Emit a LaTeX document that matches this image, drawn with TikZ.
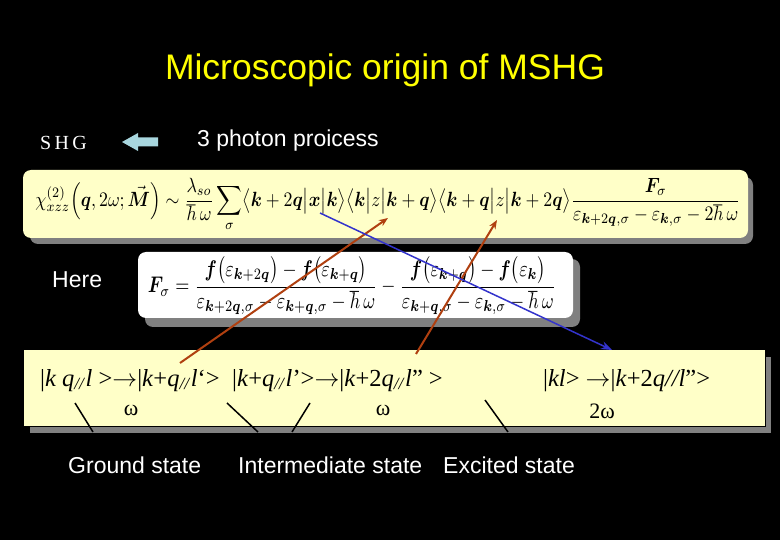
\documentclass[tikz,border=0pt]{standalone}
\usepackage{amsmath,bm,graphicx}
\usepackage{fontspec}
\setmainfont{Liberation Serif}
\newfontfamily\arialf{Liberation Sans}
\usetikzlibrary{arrows.meta}
\definecolor{boxyellow}{RGB}{255,255,200}
\definecolor{shadowgray}{RGB}{128,128,128}
\definecolor{titleyellow}{RGB}{255,255,0}
\definecolor{arrowblue}{RGB}{168,214,222}
\definecolor{redarrow}{RGB}{176,64,16}
\definecolor{bluearrow}{RGB}{51,51,204}
\tikzset{
  whitelabel/.style={text=white,font=\arialf\fontsize{23}{27}\selectfont,inner sep=0pt},
  statetext/.style={text=black,font=\fontsize{24.5}{28}\selectfont,inner sep=0pt},
  pointer/.style={black,line width=1.5pt},
  redarr/.style={redarrow,line width=2pt,-{Stealth[length=9pt,width=7pt]}},
  bluearr/.style={bluearrow,line width=1.5pt,-{Stealth[length=11pt,width=8pt]}},
}
\begin{document}
\begin{tikzpicture}[x=1pt,y=-1pt]
\fill[black] (0,0) rectangle (780,540);
\useasboundingbox (0,0) rectangle (780,540);
% title
\node[text=titleyellow,font=\arialf\fontsize{35.5}{40}\selectfont,inner sep=0pt] (title) at (385,70) {Microscopic origin of MSHG};
% SHG row
\node[text=white,font=\fontsize{20}{24}\selectfont,inner sep=0pt,anchor=west] (shg) at (40,143) {S\,H\,G};
\fill[arrowblue] (122,142) -- (138,133) -- (138,137.5) -- (158,137.5) -- (158,146.5) -- (138,146.5) -- (138,151) -- cycle;
\node[whitelabel,anchor=west] (photon) at (197,141) {3 photon proicess};
% box 1
\fill[shadowgray,rounded corners=8pt] (30,177) rectangle (753,244);
\fill[boxyellow,rounded corners=8pt] (23,170) rectangle (748,238);
\node[inner sep=0pt] (chi) at (388,205) {\resizebox*{705pt}{54pt}{$\displaystyle
\chi^{(2)}_{xzz}\Bigl(\bm{q},2\omega;\vec{\bm M}\Bigr)\sim\frac{\lambda_{so}}{\hbar\,\omega}\sum_{\sigma}\bigl\langle \bm{k}+2\bm{q}\big|\bm{x}\big|\bm{k}\bigr\rangle\bigl\langle\bm{k}\big|z\big|\bm{k}+\bm{q}\bigr\rangle\bigl\langle\bm{k}+\bm{q}\big|z\big|\bm{k}+2\bm{q}\bigr\rangle\frac{\bm{F}_\sigma}{\varepsilon_{\bm{k}+2\bm{q},\sigma}-\varepsilon_{\bm{k},\sigma}-2\hbar\,\omega}$}};
% Here
\node[whitelabel,anchor=west] (here) at (52,280) {Here};
% box 2
\fill[shadowgray,rounded corners=8pt] (145,259) rectangle (580,327);
\fill[white,rounded corners=8pt] (138,252) rectangle (573,318);
\node[inner sep=0pt] (fsig) at (352,286) {\resizebox*{408pt}{58pt}{$\displaystyle
\bm{F}_\sigma=\frac{\bm f\bigl(\varepsilon_{\bm k+2\bm q}\bigr)-\bm f\bigl(\varepsilon_{\bm k+\bm q}\bigr)}{\varepsilon_{\bm k+2\bm q,\sigma}-\varepsilon_{\bm k+\bm q,\sigma}-\hbar\,\omega}-\frac{\bm f\bigl(\varepsilon_{\bm k+\bm q}\bigr)-\bm f\bigl(\varepsilon_{\bm k}\bigr)}{\varepsilon_{\bm k+\bm q,\sigma}-\varepsilon_{\bm k,\sigma}-\hbar\,\omega}$}};
% box 3
\fill[shadowgray] (30,357) rectangle (771,433);
\filldraw[fill=boxyellow,draw=black,line width=1pt] (23,350) rectangle (765,426);
\node[statetext,anchor=base west] (t1) at (40,386) {|\textit{k q}\textsubscript{\textit{//}}\textit{l} >$\rightarrow$|\textit{k}+\textit{q}\textsubscript{\textit{//}}\textit{l}‘>};
\node[statetext,anchor=base west] (t2) at (232,386) {|\textit{k}+\textit{q}\textsubscript{\textit{//}}\textit{l}’>$\rightarrow$|\textit{k}+2\textit{q}\textsubscript{\textit{//}}\textit{l}" >};
\node[statetext,anchor=base west] (t3) at (543,386) {|\textit{kl}> $\rightarrow$|\textit{k}+2\textit{q//l}”>};
\node[statetext,font=\fontsize{22}{26}\selectfont] (w1) at (131,410) {ω};
\node[statetext,font=\fontsize{22}{26}\selectfont] (w2) at (383,410) {ω};
\node[statetext,font=\fontsize{22}{26}\selectfont] (w3) at (602,411) {2ω};
% pointer lines
\coordinate (p1a) at (75,403); \coordinate (p1b) at (93,432);
\coordinate (p2a) at (227,403); \coordinate (p2b) at (258,432);
\coordinate (p3a) at (310,403); \coordinate (p3b) at (292,432);
\coordinate (p4a) at (485,400); \coordinate (p4b) at (508,432);
\draw[pointer] (p1a) -- (p1b);
\draw[pointer] (p2a) -- (p2b);
\draw[pointer] (p3a) -- (p3b);
\draw[pointer] (p4a) -- (p4b);
% labels
\node[whitelabel,anchor=west] (ground) at (68,465) {Ground state};
\node[whitelabel,anchor=west] (inter) at (238,465) {Intermediate state};
\node[whitelabel,anchor=west] (excited) at (443,465) {Excited state};
% arrows
\coordinate (r1s) at (180,363); \coordinate (r1e) at (388,218);
\coordinate (r2s) at (416,354); \coordinate (r2e) at (497,220);
\coordinate (bs) at (320,213); \coordinate (be) at (612,350);
\draw[redarr] (r1s) -- (r1e);
\draw[redarr] (r2s) -- (r2e);
\draw[bluearr] (bs) -- (be);
\end{tikzpicture}
\end{document}
